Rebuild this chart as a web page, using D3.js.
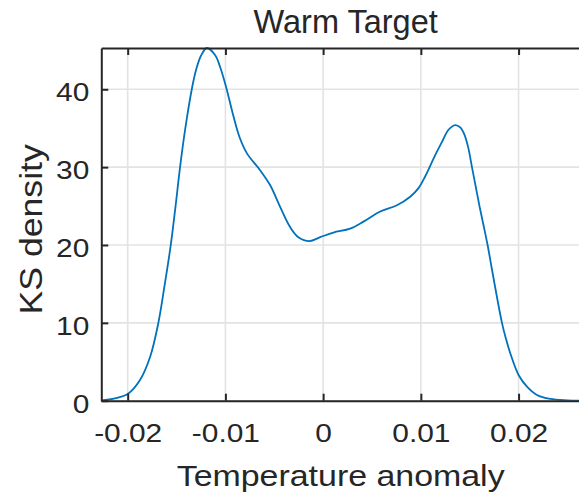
<!DOCTYPE html>
<html>
<head>
<meta charset="utf-8">
<script src="https://cdn.jsdelivr.net/npm/d3@7"></script>
<style>
  body { margin: 0; background: #fff; }
  svg { display: block; }
  text { font-family: "Liberation Sans", Arial, Helvetica, sans-serif; fill: #262626; }
</style>
</head>
<body>
<div id="chart"></div>
<script>
const width = 579
const height = 495
const margin = { top: 48, right: -7, bottom: 94.3, left: 101.3 }

// datos
const tempAnomaly = [-0.0227, -0.0213, -0.0200, -0.01874, -0.0177, -0.01686, -0.0162, -0.01559, -0.0151,
  -0.01464, -0.0141, -0.01344, -0.0130, -0.0125, -0.0119, -0.01106, -0.01055, -0.00993, -0.00925,
  -0.00857, -0.00781, -0.00645, -0.00543, -0.0044, -0.00338, -0.00253, -0.0014, -0.0003, 0.00105,
  0.00276, 0.00413, 0.00584, 0.00755, 0.00891, 0.00976, 0.01044, 0.0113, 0.01215, 0.01283, 0.01352,
  0.01403, 0.01445, 0.01485, 0.01523, 0.0156, 0.0160, 0.01642, 0.01683, 0.0172, 0.0176, 0.0183,
  0.0187, 0.01915, 0.0200, 0.02086, 0.02188, 0.02324, 0.0250, 0.0269]
const ksDensity = [0.03, 0.3, 0.86, 2.66, 5.65, 10.0, 15.0, 20.0, 25.0,
  30.0, 35.0, 40.0, 42.5, 44.3, 45.3, 44.4, 42.9, 40.3, 36.9,
  33.9, 31.8, 29.6, 27.7, 24.9, 22.3, 21.0, 20.5, 21.0, 21.6,
  22.1, 23.0, 24.3, 25.1, 26.2, 27.3, 28.8, 31.1, 33.2, 34.8, 35.4,
  35.1, 34.2, 32.5, 30.0, 27.6, 25.0, 22.5, 20.0, 17.4, 14.6, 10.0,
  8.0, 6.1, 3.3, 1.8, 0.73, 0.22, 0.05, 0.01]
const xTicks = [-0.02, -0.01, 0, 0.01, 0.02]
const xTickLabels = ['-0.02', '-0.01', '0', '0.01', '0.02']
const yTicks = [0, 10, 20, 30, 40]
const xLimits = [-0.0227, 0.0269]
const yLimits = [0, 45.3]

const data = tempAnomaly.map((t, i) => ({ t: t, d: ksDensity[i] }))

const innerW = width - margin.left - margin.right
const innerH = height - margin.top - margin.bottom
const stretch = 1.15

const svg = d3.select('#chart').append('svg').attr('width', width).attr('height', height)
const plot = svg.append('g').attr('transform', `translate(${margin.left}, ${margin.top})`)

const x = d3.scaleLinear().domain(xLimits).range([0, innerW])
const y = d3.scaleLinear().domain(yLimits).range([innerH, 0])

// grid
plot.append('g').selectAll('line').data(xTicks).join('line')
  .attr('x1', d => x(d)).attr('x2', d => x(d)).attr('y1', 0).attr('y2', innerH)
  .attr('stroke', '#e3e3e3').attr('stroke-width', 1.6)
plot.append('g').selectAll('line').data(yTicks).join('line')
  .attr('x1', 0).attr('x2', innerW).attr('y1', d => y(d)).attr('y2', d => y(d))
  .attr('stroke', '#e3e3e3').attr('stroke-width', 1.6)

// curva
svg.append('clipPath').attr('id', 'clip').append('rect')
  .attr('x', 0).attr('y', -1).attr('width', innerW).attr('height', innerH + 1)
plot.append('path')
  .datum(data)
  .attr('clip-path', 'url(#clip)')
  .attr('fill', 'none')
  .attr('stroke', '#0072BD')
  .attr('stroke-width', 1.8)
  .attr('d', d3.line().x(d => x(d.t)).y(d => y(d.d)).curve(d3.curveCatmullRom.alpha(0.5)))

// ejes (ticks hacia dentro, estilo caja)
const xAxis = d3.axisBottom(x).tickValues(xTicks).tickFormat((d, i) => xTickLabels[i])
  .tickSizeInner(-7).tickSizeOuter(0).tickPadding(23)
const yAxis = d3.axisLeft(y).tickValues(yTicks).tickSizeInner(-7).tickSizeOuter(0).tickPadding(12)

const xAxisGroup = plot.append('g').attr('transform', `translate(0, ${innerH})`).call(xAxis)
const yAxisGroup = plot.append('g').call(yAxis)
const topGroup = plot.append('g').call(d3.axisTop(x).tickValues(xTicks).tickFormat('').tickSizeInner(-7).tickSizeOuter(0))
const rightGroup = plot.append('g').attr('transform', `translate(${innerW}, 0)`)
  .call(d3.axisRight(y).tickValues(yTicks).tickFormat('').tickSizeInner(-7).tickSizeOuter(0))

;[xAxisGroup, yAxisGroup, topGroup, rightGroup].forEach(g => {
  g.select('.domain').attr('stroke', '#262626').attr('stroke-width', 2)
  g.selectAll('.tick line').attr('stroke', '#262626').attr('stroke-width', 2)
})

xAxisGroup.selectAll('text')
  .attr('font-size', 26).attr('fill', '#262626')
  .attr('font-family', '"Liberation Sans", Arial, sans-serif')
  .attr('transform', `scale(${stretch},1)`)
yAxisGroup.selectAll('text')
  .attr('font-size', 26).attr('fill', '#262626')
  .attr('font-family', '"Liberation Sans", Arial, sans-serif')
  .attr('x', -12 / stretch)
  .attr('dy', '0.45em')
  .attr('transform', `scale(${stretch},1)`)

// titulo y etiquetas
svg.append('text')
  .attr('x', margin.left + innerW / 2 + 2).attr('y', 33)
  .attr('text-anchor', 'middle').attr('font-size', 32.5)
  .text('Warm Target')

svg.append('text')
  .attr('transform', `translate(${margin.left + innerW / 2 - 3}, 486) scale(${stretch},1)`)
  .attr('text-anchor', 'middle').attr('font-size', 29.5)
  .text('Temperature anomaly')

svg.append('text')
  .attr('transform', `translate(42, ${margin.top + innerH / 2 + 5}) rotate(-90) scale(${stretch},1)`)
  .attr('text-anchor', 'middle').attr('font-size', 31)
  .text('KS density')
</script>
</body>
</html>
